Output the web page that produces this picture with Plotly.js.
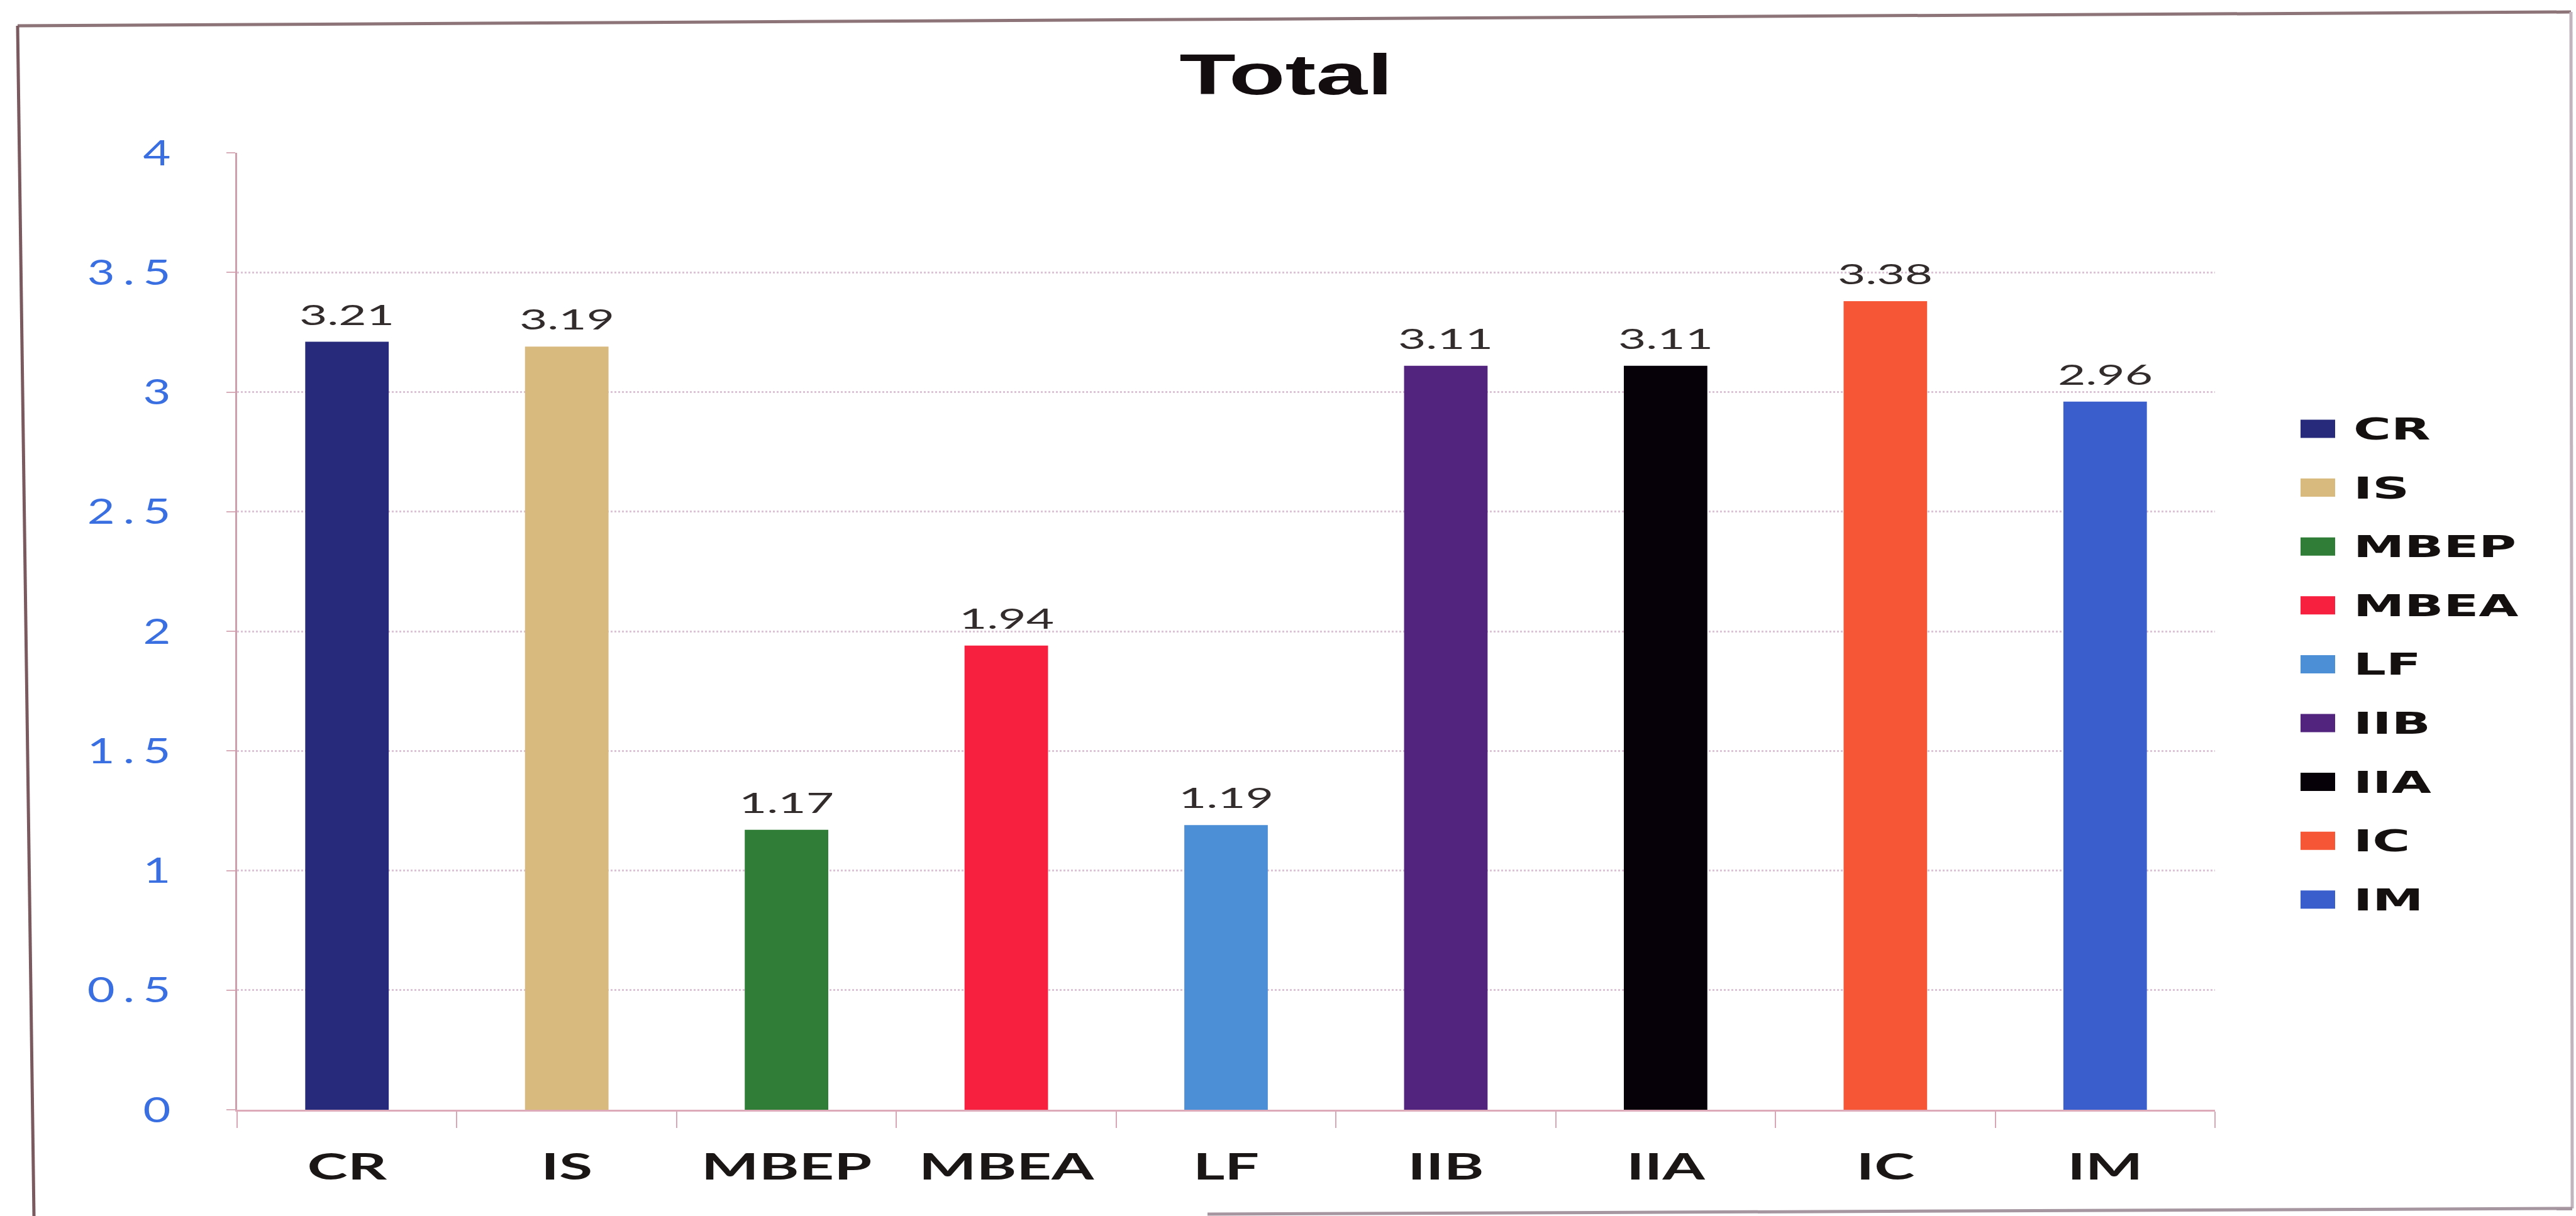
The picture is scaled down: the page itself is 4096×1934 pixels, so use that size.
<!DOCTYPE html>
<html>
<head>
<meta charset="utf-8">
<script src="https://cdn.plot.ly/plotly-3.0.1.min.js"></script>
<style>
  html, body { margin: 0; padding: 0; background: #ffffff; }
  #chart { width: 4096px; height: 1934px; }
</style>
</head>
<body>
<div id="chart"></div>
<script>
// ---- data ----
const categories = ['CR', 'IS', 'MBEP', 'MBEA', 'LF', 'IIB', 'IIA', 'IC', 'IM'];
const totals = [3.21, 3.19, 1.17, 1.94, 1.19, 3.11, 3.11, 3.38, 2.96];
const barColors = ['#27297a', '#d8ba7f', '#2f7d36', '#f7213f', '#4d8fd6', '#52247e', '#060008', '#f65636', '#3a5fcd'];
const yTickVals = [0, 0.5, 1, 1.5, 2, 2.5, 3, 3.5, 4];
const yTickText = ['0', '0.5', '1', '1.5', '2', '2.5', '3', '3.5', '4'];

// ---- page geometry (pixels) ----
const W = 4096, H = 1934;
const M = { l: 377, r: 574, t: 243, b: 169 };
const plotW = W - M.l - M.r;
const plotH = H - M.t - M.b;
const px = x => (x - M.l) / plotW;          // page x -> paper x
const py = y => (H - M.b - y) / plotH;      // page y -> paper y

// one trace per category so each bar keeps its own colour
const traces = categories.map((c, i) => ({
  type: 'bar',
  name: c,
  x: [c],
  y: [totals[i]],
  marker: { color: barColors[i], line: { width: 0 } },
  showlegend: false,
  hoverinfo: 'x+y'
}));

// value labels above each bar
const valueLabels = categories.map((c, i) => ({
  xref: 'x', yref: 'y', x: c, y: totals[i],
  text: totals[i].toFixed(2),
  showarrow: false, xanchor: 'center', yanchor: 'bottom', yshift: 15,
  font: { family: 'Lato', size: 45, color: '#332c2c' }
}));

// legend on the right: wide colour keys with bold names
const LEG = { swX0: 3658, swX1: 3713, swH: 29, textX: 3740, y0: 682, dy: 93.6 };
const legendKeys = categories.map((c, i) => ({
  type: 'rect', xref: 'paper', yref: 'paper', layer: 'above',
  x0: px(LEG.swX0), x1: px(LEG.swX1),
  y0: py(LEG.y0 + i * LEG.dy + LEG.swH / 2), y1: py(LEG.y0 + i * LEG.dy - LEG.swH / 2),
  fillcolor: barColors[i], line: { width: 0 }
}));
const legendNames = categories.map((c, i) => ({
  xref: 'paper', yref: 'paper', x: px(LEG.textX), y: py(LEG.y0 + i * LEG.dy),
  xanchor: 'left', yanchor: 'middle', align: 'left', text: c, showarrow: false,
  font: { family: 'DejaVu Sans', weight: 700, size: 48, color: '#141010' }
}));

// outer frame of the chart
const frameLine = (x0, y0, x1, y1, color) => ({
  type: 'line', xref: 'paper', yref: 'paper', layer: 'above',
  x0: px(x0), y0: py(y0), x1: px(x1), y1: py(y1),
  line: { color: color, width: 5 }
});
const frame = [
  frameLine(28, 41, 4088, 19, '#8c7479'),
  frameLine(28, 41, 54, 1934, '#7a5a5e'),
  frameLine(4088, 19, 4090, 1922, '#c2b4bc'),
  frameLine(1920, 1931, 4090, 1922, '#a596a0')
];

const layout = {
  width: W, height: H, autosize: false,
  margin: { l: M.l, r: M.r, t: M.t, b: M.b, pad: 0 },
  paper_bgcolor: '#ffffff', plot_bgcolor: '#ffffff',
  showlegend: false,
  barmode: 'overlay',
  bargap: 0.62,
  title: {
    text: 'Total',
    xref: 'container', yref: 'container',
    x: 2045 / W, y: 1 - 118 / H, xanchor: 'center', yanchor: 'middle',
    font: { family: 'Liberation Sans', weight: 700, size: 90, color: '#140d0f' }
  },
  xaxis: {
    type: 'category',
    categoryorder: 'array', categoryarray: categories,
    showline: true, linecolor: '#dcaab8', linewidth: 3,
    ticks: 'outside', tickson: 'boundaries', ticklen: 26, tickwidth: 2, tickcolor: '#d9a6b5',
    tickfont: { family: 'Lato', weight: 700, size: 57, color: '#1b1616' },
    ticklabelstandoff: 40,
    showgrid: false, zeroline: false, fixedrange: true
  },
  yaxis: {
    range: [0, 4],
    tickmode: 'array', tickvals: yTickVals, ticktext: yTickText,
    showline: true, linecolor: '#cf9fae', linewidth: 3,
    ticks: 'outside', ticklen: 14, tickwidth: 2, tickcolor: '#d8aebb',
    tickfont: { family: 'Lato', size: 56, color: '#3a6fe2' },
    ticklabelstandoff: 64,
    showgrid: true, gridcolor: '#dcc3d6', gridwidth: 3, griddash: 'dot',
    zeroline: false, fixedrange: true
  },
  shapes: legendKeys.concat(frame),
  annotations: valueLabels.concat(legendNames)
};

// The typeface used throughout is set wide; stretch glyphs horizontally to suit.
function stretch(t, k) {
  const w = t.getComputedTextLength();
  if (w > 0) {
    t.setAttribute('textLength', (w * k).toFixed(1));
    t.setAttribute('lengthAdjust', 'spacingAndGlyphs');
  }
}
function widenText(root) {
  root.querySelectorAll('.gtitle').forEach(t => stretch(t, 1.63));
  root.querySelectorAll('.xtick text').forEach(t => stretch(t, 1.70));
  root.querySelectorAll('.annotation-text').forEach(t => stretch(t, 1.70));
  // axis numbers are loosely tracked as well as widened
  root.querySelectorAll('.ytick text').forEach(t => {
    t.setAttribute('letter-spacing', '10');
    stretch(t, 1.35);
  });
}

Plotly.newPlot('chart', traces, layout, { displayModeBar: false, staticPlot: true })
  .then(gd => widenText(gd));
</script>
</body>
</html>
